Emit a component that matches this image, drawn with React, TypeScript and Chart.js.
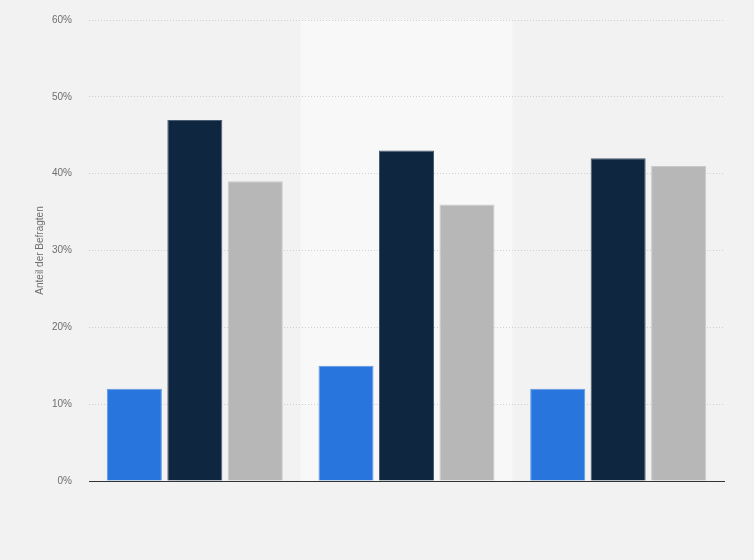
import React, { useEffect, useRef } from "react";
import { Chart, registerables } from "chart.js";

Chart.register(...registerables);

const categories = ["Gruppe A", "Gruppe B", "Gruppe C"];
const seriesNames = ["Serie 1", "Serie 2", "Serie 3"];
const series1 = [12, 15, 12];
const series2 = [47, 43, 42];
const series3 = [39, 36, 41];
const yTicks = [0, 10, 20, 30, 40, 50, 60];

const colors = ["#2876dd", "#0f2640", "#b7b7b7"];
const borders = ["#5f9ae8", "#4b5d72", "#cacaca"];

const bgPlugin = {
  id: "bgPlugin",
  beforeDraw(chart: any) {
    const { ctx, chartArea, scales } = chart;
    ctx.save();
    ctx.fillStyle = "#f2f2f2";
    ctx.fillRect(0, 0, chart.width, chart.height);
    const x = scales.x;
    const w = (chartArea.right - chartArea.left) / categories.length;
    const cx = x.getPixelForValue(1);
    ctx.fillStyle = "#f8f8f8";
    ctx.fillRect(cx - w / 2, chartArea.top, w, chartArea.bottom - chartArea.top);
    ctx.restore();
  },
};

export default function App() {
  const ref = useRef<HTMLCanvasElement | null>(null);
  useEffect(() => {
    document.body.style.margin = "0";
    const data = [series1, series2, series3];
    const chart = new Chart(ref.current!, {
      type: "bar",
      data: {
        labels: categories,
        datasets: data.map((d, i) => ({
          label: seriesNames[i],
          data: d,
          backgroundColor: colors[i],
          borderColor: borders[i],
          borderWidth: 1,
          categoryPercentage: 0.857,
          barPercentage: 0.91,
        })),
      },
      options: {
        animation: false,
        responsive: false,
        devicePixelRatio: 1,
        layout: { padding: { top: 20, bottom: 79, right: 30, left: 0 } },
        plugins: { legend: { display: false }, tooltip: { enabled: false } },
        scales: {
          x: {
            ticks: { display: false },
            grid: { display: false, drawTicks: false },
            border: { display: true, color: "#333333", width: 1 },
            afterFit(scale: any) {
              scale.height = 0;
              scale.paddingLeft = 0;
              scale.paddingRight = 0;
            },
          },
          y: {
            min: 0,
            max: 60,
            afterBuildTicks(scale: any) {
              scale.ticks = yTicks.map((v) => ({ value: v }));
            },
            ticks: {
              padding: 17,
              color: "#6e6e6e",
              font: { family: "'Liberation Sans', Arial, sans-serif", size: 10 },
              callback: (v: any) => v + "%",
            },
            grid: {
              color: "#cfcfcf",
              drawTicks: false,
              lineWidth: 1,
            },
            border: { display: false, dash: [1, 2] },
            title: {
              display: true,
              text: "Anteil der Befragten",
              color: "#6e6e6e",
              font: { family: "'Liberation Sans', Arial, sans-serif", size: 10 },
              padding: { top: 34, bottom: 0 },
            },
            afterFit(scale: any) {
              scale.width = 89;
              scale.paddingTop = 0;
              scale.paddingBottom = 0;
            },
          },
        },
      },
      plugins: [bgPlugin],
    } as any);
    return () => chart.destroy();
  }, []);
  return (
    <div style={{ position: "absolute", left: 0, top: 0, width: 754, height: 560 }}>
      <canvas ref={ref} width={754} height={560} style={{ display: "block" }} />
    </div>
  );
}
